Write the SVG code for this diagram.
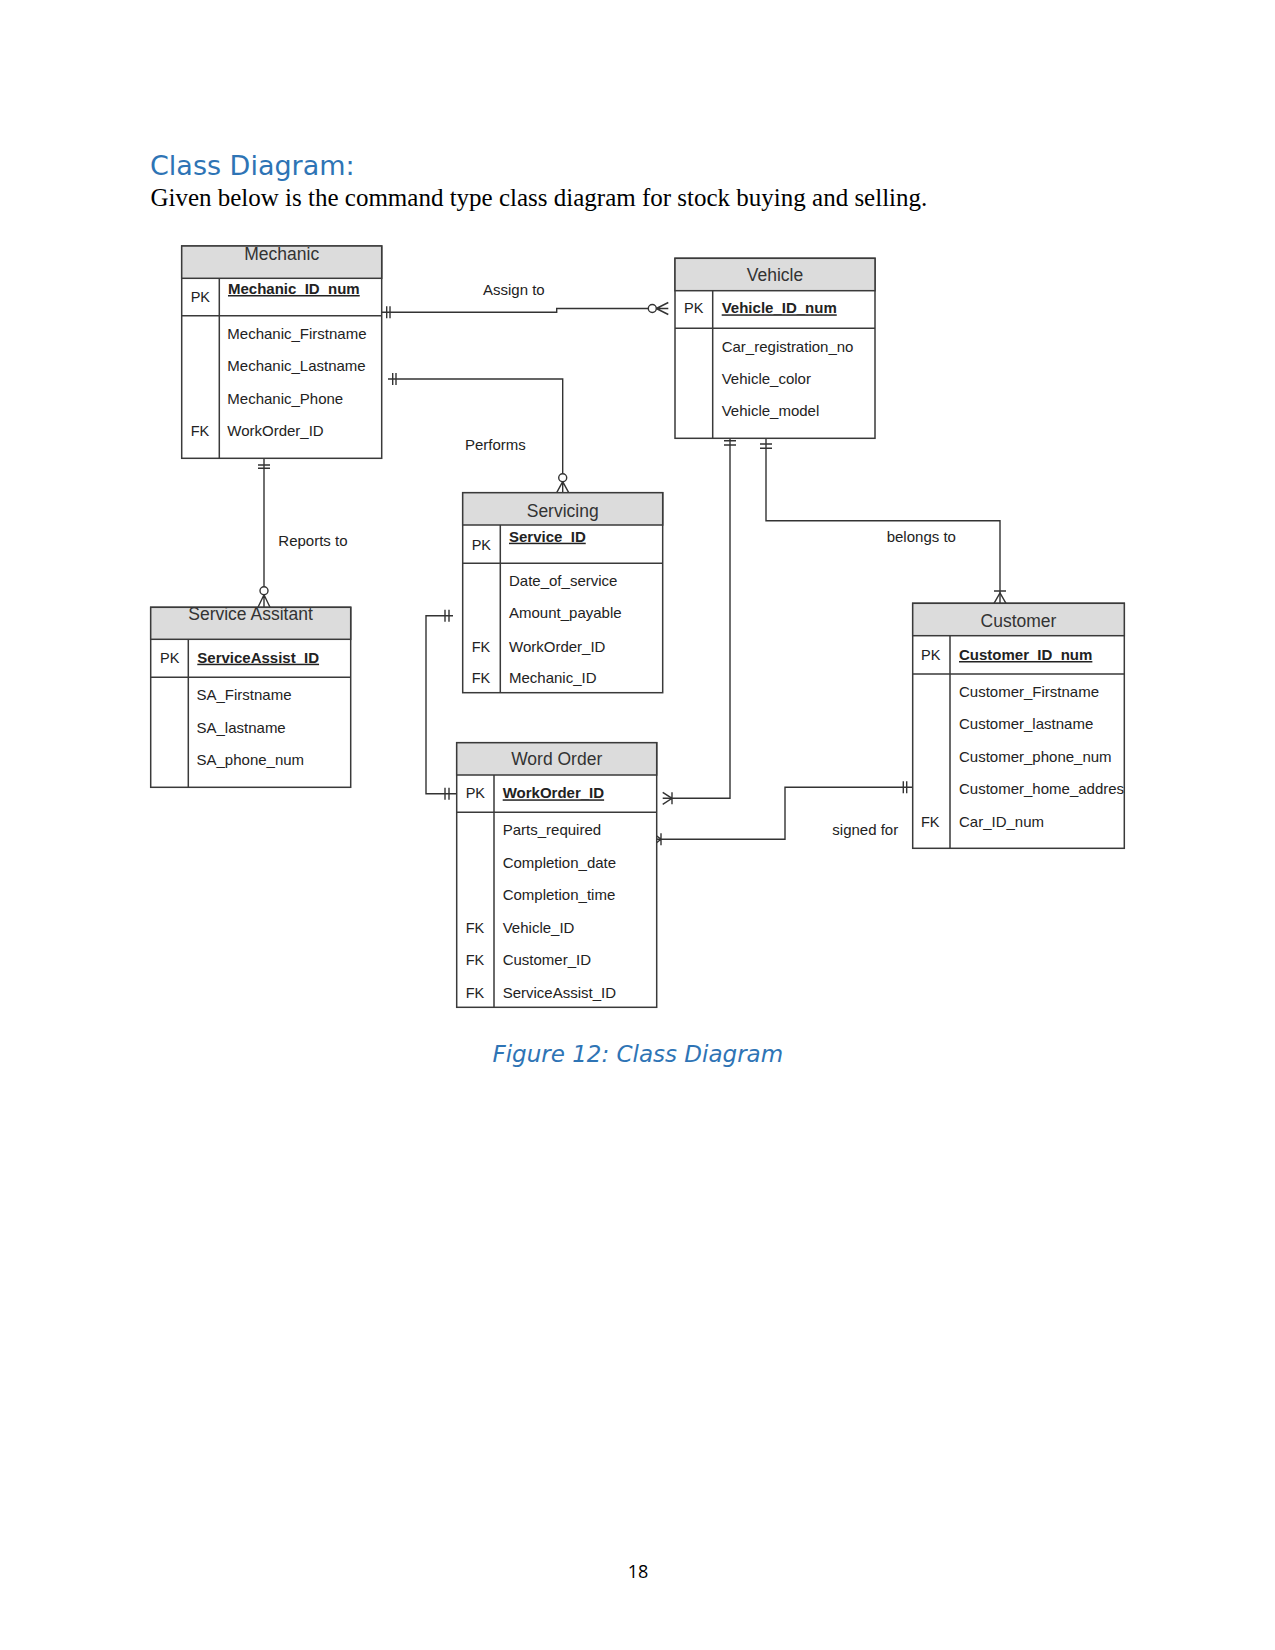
<svg xmlns="http://www.w3.org/2000/svg" width="1275" height="1650" viewBox="0 0 1275 1650">
<defs>
<style>
.box{fill:#fff;stroke:#3a3a3a;stroke-width:1.5}
.hdr{fill:#dcdcdc;stroke:#3a3a3a;stroke-width:1.5}
.ln{stroke:#3a3a3a;stroke-width:1.5;fill:none}
.cn{stroke:#333;stroke-width:1.4;fill:none}
.ci{stroke:#333;stroke-width:1.4;fill:#fff}
.ht{font-family:"Liberation Sans",Arial,sans-serif;font-size:17.5px;fill:#333;text-anchor:middle}
.at{font-family:"Liberation Sans",Arial,sans-serif;font-size:15px;fill:#222}
.pk{font-family:"Liberation Sans",Arial,sans-serif;font-size:14.5px;fill:#222}
.pkb{font-family:"Liberation Sans",Arial,sans-serif;font-size:15px;fill:#222;font-weight:bold;text-decoration:underline}
.lb{font-family:"Liberation Sans",Arial,sans-serif;font-size:15px;fill:#222}
</style>
<clipPath id="custClip"><rect x="912.7" y="603.3" width="211.6" height="245"/></clipPath>
</defs>
<rect width="1275" height="1650" fill="#fff"/>
<text x="150" y="174.5" font-family="DejaVu Sans, sans-serif" font-size="27" fill="#2e74b5">Class Diagram:</text>
<text x="150.4" y="206" font-family="Liberation Serif, serif" font-size="25" fill="#000">Given below is the command type class diagram for stock buying and selling.</text>

<g id="connectors">
  <!-- Assign to -->
  <path class="cn" d="M381.7,312.3 H556.7 V308.5 H648.3"/>
  <path class="cn" d="M386.7,306.3 V318.3 M390,306.3 V318.3"/>
  <circle class="ci" cx="652.3" cy="308.5" r="4"/>
  <path class="cn" d="M656.3,308.5 L668.3,302.5 M656.3,308.5 L668.3,314.5 M656.3,308.5 H668.3"/>
  <!-- Performs -->
  <path class="cn" d="M388,379 H562.7 V473.7"/>
  <path class="cn" d="M392.7,373 V385 M396,373 V385"/>
  <circle class="ci" cx="562.7" cy="477.7" r="4"/>
  <path class="cn" d="M562.7,481.7 L556.7,492.7 M562.7,481.7 L568.7,492.7 M562.7,481.7 V492.7"/>
  <!-- Reports to -->
  <path class="cn" d="M264,458.3 V586.7"/>
  <path class="cn" d="M258,465 H270 M258,468.3 H270"/>
  <circle class="ci" cx="264" cy="590.7" r="4"/>
  <path class="cn" d="M264,594.7 L258,607.3 M264,594.7 L270,607.3 M264,594.7 V607.3"/>
  <!-- Servicing - Work Order -->
  <path class="cn" d="M453,615.7 H426 V793.7 H456.7"/>
  <path class="cn" d="M445,609.7 V621.7 M449,609.7 V621.7"/>
  <path class="cn" d="M445,787.7 V799.7 M449,787.7 V799.7"/>
  <!-- Vehicle - Work Order -->
  <path class="cn" d="M730,438.3 V798.3 H662.7"/>
  <path class="cn" d="M724,440.7 H736 M724,445 H736"/>
  <path class="cn" d="M662.7,792.3 L672,798.3 L662.7,804.3 M672,792.3 V804.3"/>
  <!-- belongs to -->
  <path class="cn" d="M766,438.3 V520.7 H1000 V603.3"/>
  <path class="cn" d="M760,444 H772 M760,448.3 H772"/>
  <path class="cn" d="M994,591 H1006 M994,603.3 L1000,593 L1006,603.3"/>
  <!-- signed for -->
  <path class="cn" d="M653.3,839.3 H785 V787.3 H912.7"/>
  <path class="cn" d="M653.3,833.3 L661,839.3 L653.3,845.3 M661,833.3 V845.3"/>
  <path class="cn" d="M903.3,781.3 V793.3 M906.7,781.3 V793.3"/>
  <!-- labels -->
  <text class="lb" x="483" y="295">Assign to</text>
  <text class="lb" x="465" y="450">Performs</text>
  <text class="lb" x="278.3" y="546">Reports to</text>
  <text class="lb" x="886.7" y="541.7">belongs to</text>
  <text class="lb" x="832.3" y="835">signed for</text>
</g>

<g id="mechanic">
  <rect class="box" x="181.7" y="246" width="200" height="212.3"/>
  <rect class="hdr" x="181.7" y="246" width="200" height="32.3"/>
  <path class="ln" d="M181.7,315.7 H381.7 M219.3,278.3 V458.3"/>
  <text class="ht" x="281.7" y="259.5">Mechanic</text>
  <text class="pk" x="190.7" y="301.7">PK</text>
  <text class="pkb" x="228" y="294">Mechanic_ID_num</text>
  <text class="at" x="227.3" y="339">Mechanic_Firstname</text>
  <text class="at" x="227.3" y="371.3">Mechanic_Lastname</text>
  <text class="at" x="227.3" y="403.6">Mechanic_Phone</text>
  <text class="pk" x="190.7" y="436">FK</text>
  <text class="at" x="227.3" y="436">WorkOrder_ID</text>
</g>

<g id="vehicle">
  <rect class="box" x="675" y="258.3" width="200" height="180"/>
  <rect class="hdr" x="675" y="258.3" width="200" height="32.4"/>
  <path class="ln" d="M675,328.3 H875 M712.7,290.7 V438.3"/>
  <text class="ht" x="775" y="280.7">Vehicle</text>
  <text class="pk" x="684" y="313.3">PK</text>
  <text class="pkb" x="721.7" y="313.3">Vehicle_ID_num</text>
  <text class="at" x="721.7" y="351.7">Car_registration_no</text>
  <text class="at" x="721.7" y="383.5">Vehicle_color</text>
  <text class="at" x="721.7" y="415.7">Vehicle_model</text>
</g>

<g id="service-assistant">
  <rect class="box" x="150.7" y="607.3" width="200" height="180"/>
  <rect class="hdr" x="150.7" y="607.3" width="200" height="32"/>
  <path class="ln" d="M150.7,677.3 H350.7 M188.3,639.3 V787.3"/>
  <text class="ht" x="250.5" y="620">Service Assitant</text>
  <text class="pk" x="160" y="662.7">PK</text>
  <text class="pkb" x="197.3" y="662.7">ServiceAssist_ID</text>
  <text class="at" x="196.5" y="700">SA_Firstname</text>
  <text class="at" x="196.5" y="732.5">SA_lastname</text>
  <text class="at" x="196.5" y="765">SA_phone_num</text>
</g>

<g id="servicing">
  <rect class="box" x="462.7" y="492.7" width="200" height="200"/>
  <rect class="hdr" x="462.7" y="492.7" width="200" height="32.3"/>
  <path class="ln" d="M462.7,563.3 H662.7 M500.3,525 V692.7"/>
  <text class="ht" x="562.7" y="516.7">Servicing</text>
  <text class="pk" x="471.7" y="550">PK</text>
  <text class="pkb" x="509" y="541.7">Service_ID</text>
  <text class="at" x="509" y="586">Date_of_service</text>
  <text class="at" x="509" y="618.3">Amount_payable</text>
  <text class="pk" x="471.7" y="651.7">FK</text>
  <text class="at" x="509" y="651.7">WorkOrder_ID</text>
  <text class="pk" x="471.7" y="683.3">FK</text>
  <text class="at" x="509" y="683.3">Mechanic_ID</text>
</g>

<g id="work-order">
  <rect class="box" x="456.7" y="742.7" width="200" height="264.6"/>
  <rect class="hdr" x="456.7" y="742.7" width="200" height="32.3"/>
  <path class="ln" d="M456.7,812.3 H656.7 M494,775 V1007.3"/>
  <text class="ht" x="556.7" y="765">Word Order</text>
  <text class="pk" x="465.7" y="798.3">PK</text>
  <text class="pkb" x="502.7" y="798.3">WorkOrder_ID</text>
  <text class="at" x="502.7" y="835">Parts_required</text>
  <text class="at" x="502.7" y="867.5">Completion_date</text>
  <text class="at" x="502.7" y="900">Completion_time</text>
  <text class="pk" x="465.7" y="932.7">FK</text>
  <text class="at" x="502.7" y="932.7">Vehicle_ID</text>
  <text class="pk" x="465.7" y="965">FK</text>
  <text class="at" x="502.7" y="965">Customer_ID</text>
  <text class="pk" x="465.7" y="997.7">FK</text>
  <text class="at" x="502.7" y="997.7">ServiceAssist_ID</text>
</g>

<g id="customer">
  <rect class="box" x="912.7" y="603.3" width="211.6" height="245"/>
  <rect class="hdr" x="912.7" y="603.3" width="211.6" height="32.4"/>
  <path class="ln" d="M912.7,674 H1124.3 M950,635.7 V848.3"/>
  <text class="ht" x="1018.5" y="626.7">Customer</text>
  <text class="pk" x="921" y="660">PK</text>
  <text class="pkb" x="959" y="660">Customer_ID_num</text>
  <text class="at" x="959" y="696.7">Customer_Firstname</text>
  <text class="at" x="959" y="729">Customer_lastname</text>
  <text class="at" x="959" y="761.7">Customer_phone_num</text>
  <text class="at" x="959" y="794" clip-path="url(#custClip)">Customer_home_address</text>
  <text class="pk" x="921" y="826.7">FK</text>
  <text class="at" x="959" y="826.7">Car_ID_num</text>
</g>

<text x="492.5" y="1061.5" font-family="DejaVu Sans, sans-serif" font-style="italic" font-size="23" fill="#2e74b5">Figure 12: Class Diagram</text>
<text x="638" y="1577.5" font-family="Open Sans, sans-serif" font-size="18" fill="#000" text-anchor="middle">18</text>
</svg>
